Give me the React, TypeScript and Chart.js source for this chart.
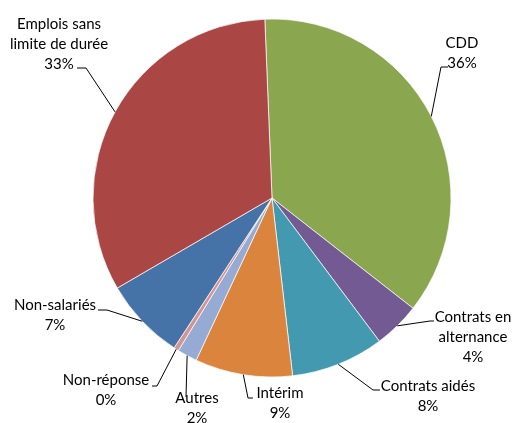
import React, { useEffect, useRef } from "react";
import { Chart, registerables } from "chart.js";

Chart.register(...registerables);

const categories = [
  "CDD",
  "Contrats en alternance",
  "Contrats aidés",
  "Intérim",
  "Autres",
  "Non-réponse",
  "Non-salariés",
  "Emplois sans limite de durée",
];
const labelLines = [
  ["CDD"],
  ["Contrats en", "alternance"],
  ["Contrats aidés"],
  ["Intérim"],
  ["Autres"],
  ["Non-réponse"],
  ["Non-salariés"],
  ["Emplois sans", "limite de durée"],
];
const shares = [36.2, 4.2, 8.4, 8.8, 1.8, 0.45, 7.4, 32.75];
const colors = [
  "#8AA64E",
  "#745A92",
  "#4399B0",
  "#DB843D",
  "#95ABD3",
  "#D49494",
  "#4573A7",
  "#AA4744",
];

// label layout: text centre x, first line y, elbow point, anchor point (text side)
const labelLayout = [
  { tx: 462, ty: 43, ex: 441, ey: 67, ax: 448, ay: 67 },
  { tx: 473, ty: 317, ex: 430, ey: 321, ax: 434, ay: 321 },
  { tx: 428, ty: 386, ex: 373, ey: 390, ax: 380, ay: 390 },
  { tx: 280, ty: 393, ex: 248, ey: 398, ax: 253, ay: 398 },
  { tx: 197, ty: 398, ex: 186, ey: 397, ax: 186, ay: 397 },
  { tx: 106, ty: 380, ex: 157, ey: 386, ax: 152, ay: 386 },
  { tx: 55, ty: 305, ex: 107, ey: 310, ax: 98, ay: 310 },
  { tx: 59, ty: 24, ex: 86, ey: 68, ax: 77, ay: 68 },
];

const FONT = "15px Lato";
const LINE_H = 20;

const labelPlugin = {
  id: "pieLabels",
  afterDatasetsDraw(chart: any) {
    const ctx = chart.ctx;
    const meta = chart.getDatasetMeta(0);
    const data = chart.data.datasets[0].data as number[];
    const total = data.reduce((a, b) => a + b, 0);
    ctx.save();
    meta.data.forEach((arc: any, i: number) => {
      const p = arc.getProps(["x", "y", "startAngle", "endAngle", "outerRadius"], true);
      const mid = (p.startAngle + p.endAngle) / 2;
      const px = p.x + Math.cos(mid) * p.outerRadius;
      const py = p.y + Math.sin(mid) * p.outerRadius;
      const L = labelLayout[i];
      ctx.strokeStyle = "#000";
      ctx.lineWidth = 1;
      ctx.beginPath();
      ctx.moveTo(px, py);
      ctx.lineTo(L.ex, L.ey);
      ctx.lineTo(L.ax, L.ay);
      ctx.stroke();
      const lines = [...labelLines[i], `${Math.round((data[i] / total) * 100)}%`];
      ctx.fillStyle = "#000";
      ctx.font = FONT;
      ctx.textAlign = "center";
      ctx.textBaseline = "middle";
      lines.forEach((t, k) => ctx.fillText(t, L.tx, L.ty + k * LINE_H));
    });
    ctx.restore();
  },
};

export default function App() {
  const ref = useRef<HTMLCanvasElement>(null);
  useEffect(() => {
    if (!ref.current) return;
    const chart = new Chart(ref.current, {
      type: "pie",
      data: {
        labels: categories,
        datasets: [
          {
            data: shares,
            backgroundColor: colors,
            borderColor: "rgba(255,255,255,0.7)",
            borderWidth: 1,
            hoverOffset: 0,
            radius: 179,
          } as any,
        ],
      },
      options: {
        responsive: false,
        maintainAspectRatio: false,
        animation: false,
        rotation: -2.3,
        layout: { padding: { left: 93, right: 64, top: 19, bottom: 46 } },
        plugins: { legend: { display: false }, tooltip: { enabled: false } },
      } as any,
      plugins: [labelPlugin],
    });
    return () => chart.destroy();
  }, []);
  return (
    <div style={{ position: "absolute", left: 0, top: 0, width: 515, height: 423, background: "#fff" }}>
      <canvas ref={ref} width={515} height={423} style={{ display: "block" }} />
    </div>
  );
}
